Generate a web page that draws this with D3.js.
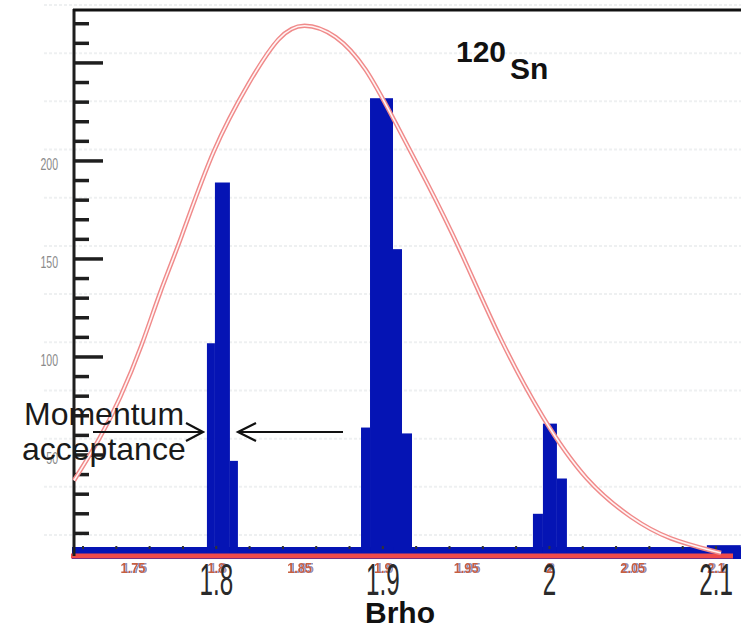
<!DOCTYPE html>
<html>
<head>
<meta charset="utf-8">
<script src="https://cdn.jsdelivr.net/npm/d3@7"></script>
<style>
  html, body { margin: 0; padding: 0; background: #fff; }
  svg { display: block; font-family: "Liberation Sans", Arial, sans-serif; }
</style>
</head>
<body>
<svg id="chart" width="741" height="630"></svg>
<script>
// histogram bins (Brho) and counts
var binLo  = [1.7944, 1.7992, 1.8082, 1.8869, 1.8923, 1.9061, 1.9115, 1.9901, 1.9961, 2.0045, 2.0945];
var binHi  = [1.7992, 1.8082, 1.8130, 1.8923, 1.9061, 1.9115, 1.9175, 1.9961, 2.0045, 2.0105, 2.1149];
var counts = [107, 189, 47, 64, 232, 155, 61, 20, 66, 38, 4];

// the fitted envelope
var curveX = [1.7146, 1.730, 1.742, 1.756, 1.766, 1.778, 1.798, 1.820, 1.838, 1.852,
              1.872, 1.890, 1.906, 1.926, 1.946, 1.970, 1.996, 2.022, 2.050, 2.071, 2.103];
var curveY = [37, 58, 78, 107, 133, 158, 207, 241, 265, 271,
              265, 248, 222, 190, 156, 109, 68, 36, 17, 7, 0];

var yTicks = d3.range(10, 280, 10);
var yLabels = [50, 100, 150, 200];
var xBigTicks = [1.8, 1.9, 2.0, 2.1];
var xBigLabels = ["1.8", "1.9", "2", "2.1"];
var xSmallTicks = [1.75, 1.8, 1.85, 1.9, 1.95, 2.0, 2.05, 2.1];
var xSmallLabels = ["1.75", "1.8", "1.85", "1.9", "1.95", "2", "2.05", "2.1"];
var xDots = d3.range(1.72, 2.11, 0.02);
var ghostRows = d3.range(0, 12);

var svg = d3.select("#chart");
var x = d3.scaleLinear().domain([1.7146, 2.115]).range([74, 741]);
var y = d3.scaleLinear().domain([0, 277]).range([553, 10]);
var ghost = d3.scaleLinear().domain([0, 11]).range([5, 535]);

// blue/red double print of the small labels
var defs = svg.append("defs");
var f = defs.append("filter").attr("id", "ghost").attr("x", "-20%").attr("y", "-20%")
    .attr("width", "140%").attr("height", "140%");
f.append("feFlood").attr("flood-color", "#8a96c8").attr("result", "c");
f.append("feComposite").attr("in", "c").attr("in2", "SourceAlpha").attr("operator", "in").attr("result", "s");
f.append("feOffset").attr("in", "s").attr("dx", 1.5).attr("dy", 0).attr("result", "o");
var m = f.append("feMerge");
m.append("feMergeNode").attr("in", "o");
m.append("feMergeNode").attr("in", "SourceGraphic");

// faint grid left over from the scan
svg.append("g").selectAll("line").data(ghostRows).enter().append("line")
    .attr("x1", 44).attr("x2", 741)
    .attr("y1", function (d) { return ghost(d); })
    .attr("y2", function (d) { return ghost(d); })
    .style("stroke", "#cfd6d8").style("stroke-width", 2)
    .style("stroke-dasharray", "3,2").style("opacity", 0.35);

// blue floor of the histogram
svg.append("line")
    .attr("x1", 72).attr("x2", 741).attr("y1", y(0)).attr("y2", y(0))
    .style("stroke", "#0514b4").style("stroke-width", 12);

// bars
svg.append("g").selectAll("rect").data(counts).enter().append("rect")
    .attr("x", function (d, i) { return x(binLo[i]); })
    .attr("width", function (d, i) { return x(binHi[i]) - x(binLo[i]); })
    .attr("y", function (d) { return y(d); })
    .attr("height", function (d) { return y(0) - y(d); })
    .style("fill", "#0514b4");

// small dots on the axis
svg.append("g").selectAll("rect").data(xDots).enter().append("rect")
    .attr("x", function (d) { return x(d) - 1; })
    .attr("y", y(0) - 7).attr("width", 2).attr("height", 3)
    .style("fill", "#333");

svg.append("line")
    .attr("x1", 71).attr("x2", 733).attr("y1", y(0) + 3).attr("y2", y(0) + 3)
    .style("stroke", "#f04a4a").style("stroke-width", 5);

// frame: left axis and top line
svg.append("line").attr("x1", 74).attr("x2", 74).attr("y1", 9).attr("y2", 556)
    .style("stroke", "#1e1e1e").style("stroke-width", 3);
svg.append("line").attr("x1", 73).attr("x2", 741).attr("y1", 10).attr("y2", 10)
    .style("stroke", "#111").style("stroke-width", 3);

// y ticks
svg.append("g").selectAll("line").data(yTicks).enter().append("line")
    .attr("x1", 74)
    .attr("x2", function (d) { return d % 50 === 0 ? 103 : 89; })
    .attr("y1", function (d) { return y(d); })
    .attr("y2", function (d) { return y(d); })
    .style("stroke", "#1e1e1e").style("stroke-width", 3.5);

svg.append("g").selectAll("text").data(yLabels).enter().append("text")
    .attr("transform", function (d) { return "translate(58," + (y(d) + 9) + ") scale(0.62,1)"; })
    .attr("text-anchor", "end")
    .style("font-size", "17px").style("fill", "#8a8a8a")
    .text(function (d) { return d; });

// envelope curve, drawn hollow like the original
var line = d3.line()
    .x(function (d, i) { return x(curveX[i]); })
    .y(function (d) { return y(d); })
    .curve(d3.curveBasis);
svg.append("path").attr("d", line(curveY))
    .style("fill", "none").style("stroke", "#f08a8a").style("stroke-width", 4.5);
svg.append("path").attr("d", line(curveY))
    .style("fill", "none").style("stroke", "#fff4f4").style("stroke-width", 1.6);

// x labels: small ghost row and big row
svg.append("g").attr("filter", "url(#ghost)")
    .selectAll("text").data(xSmallTicks).enter().append("text")
    .attr("transform", function (d) { return "translate(" + x(d) + ",573) scale(0.85,1)"; })
    .attr("text-anchor", "middle")
    .style("font-size", "15px").style("font-weight", "bold").style("fill", "#c8603e")
    .text(function (d, i) { return xSmallLabels[i]; });

svg.append("g").selectAll("text").data(xBigTicks).enter().append("text")
    .attr("transform", function (d) { return "translate(" + x(d) + ",595) scale(0.55,1)"; })
    .attr("text-anchor", "middle")
    .style("font-size", "44px").style("fill", "#2a2a2a")
    .text(function (d, i) { return xBigLabels[i]; });

svg.append("text").attr("x", 400).attr("y", 623)
    .attr("text-anchor", "middle")
    .style("font-size", "30px").style("font-weight", "bold").style("fill", "#111")
    .text("Brho");

// isotope label
svg.append("text").attr("x", 456).attr("y", 62)
    .style("font-size", "30px").style("font-weight", "bold").style("fill", "#111")
    .text("120");
svg.append("text").attr("x", 510).attr("y", 79)
    .style("font-size", "30px").style("font-weight", "bold").style("fill", "#111")
    .text("Sn");

// momentum acceptance note
svg.append("text").attr("x", 24).attr("y", 425)
    .style("font-size", "32px").style("fill", "#1a1a1a").text("Momentum");
svg.append("text").attr("x", 22).attr("y", 460)
    .style("font-size", "32px").style("fill", "#1a1a1a").text("acceptance");

var arrows = svg.append("g").style("stroke", "#111").style("stroke-width", 2.2).style("fill", "none");
arrows.append("path").attr("d", "M93,432 L203,432 M186,423 L203,432 L186,441");
arrows.append("path").attr("d", "M343,432 L238,432 M256,423 L238,432 L256,441");
</script>
</body>
</html>
